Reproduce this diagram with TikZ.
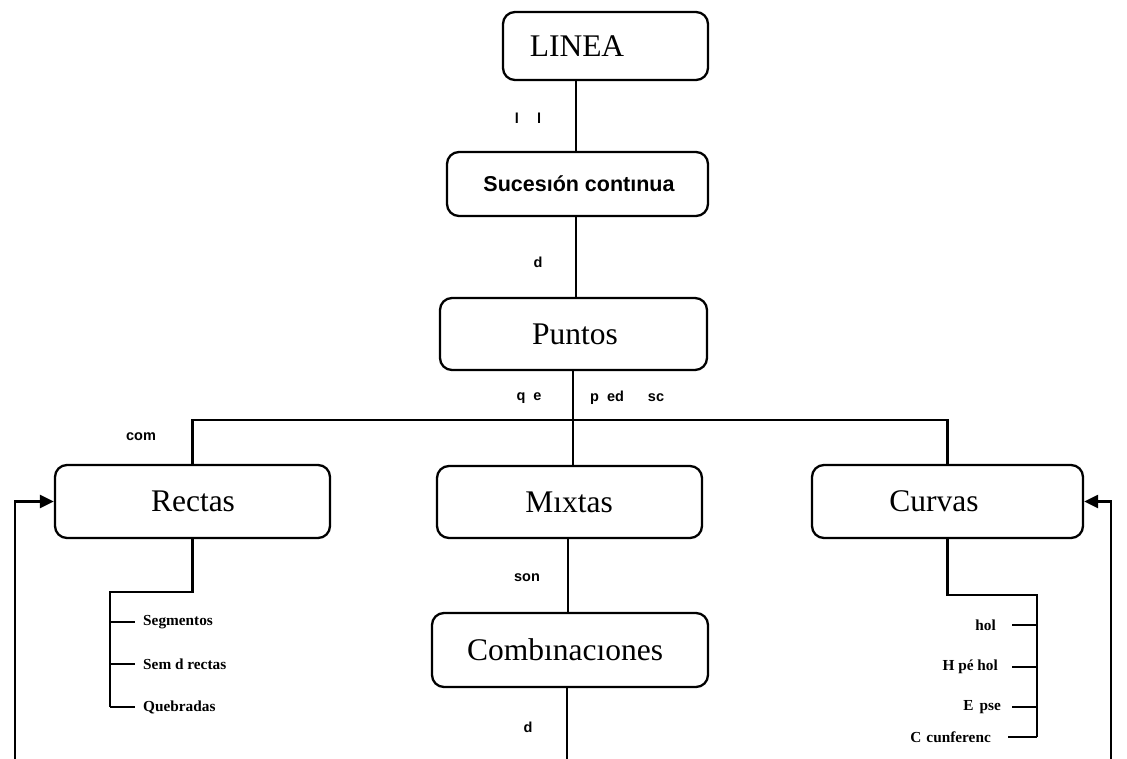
\documentclass[tikz,border=0pt]{standalone}
\usepackage{fontspec}
\setmainfont{Liberation Serif}
\newfontfamily\lsans{Liberation Sans}
\usetikzlibrary{arrows.meta}
\begin{document}
\begin{tikzpicture}[x=1pt,y=-1pt,
  box/.style={draw, line width=2.3pt, rounded corners=12pt, inner sep=0pt},
  big/.style={font=\fontsize{31.5}{31.5}\selectfont, inner sep=0pt},
  mid/.style={font=\lsans\bfseries\fontsize{21.5}{21.5}\selectfont, inner sep=0pt},
  small/.style={font=\lsans\bfseries\fontsize{14.5}{14.5}\selectfont, inner sep=0pt},
  item/.style={font=\bfseries\fontsize{15.3}{15.3}\selectfont, inner sep=0pt},
  conn/.style={line width=2.3pt},
  arr/.style={conn, -{Triangle[length=14pt,width=13pt]}}
]
\useasboundingbox (0,0) rectangle (1127,759);

% boxes
\node[box, minimum width=205pt, minimum height=68pt] (linea) at (605.5,46) {};
\node[big] (lineat) at (577,46) {LINEA};
\node[box, minimum width=261pt, minimum height=64pt] (suc) at (577.5,184) {};
\node[mid] (suct) at (579,184) {Sucesıón contınua};
\node[box, minimum width=267pt, minimum height=72pt] (puntos) at (573.5,334) {};
\node[big] (puntost) at (575,334) {Puntos};
\node[box, minimum width=275pt, minimum height=73pt] (rectas) at (192.5,501.5) {};
\node[big] (rectast) at (193,501.5) {Rectas};
\node[box, minimum width=265pt, minimum height=72pt] (mixtas) at (569.5,502) {};
\node[big] (mixtast) at (569,502) {Mıxtas};
\node[box, minimum width=271pt, minimum height=73pt] (curvas) at (947.5,501.5) {};
\node[big] (curvast) at (934,501.5) {Curvas};
\node[box, minimum width=276pt, minimum height=74pt] (comb) at (570,650) {};
\node[big] (combt) at (565,650) {Combınacıones};

% connector labels
\node[small] (l1) at (528,118) {l\hspace{18pt}l};
\node[small] (l2) at (538,262) {d};
\node[small] (l3) at (529,398) {q\hspace{8pt}e};
\node[small, anchor=west] (l4) at (590,398) {p\hspace{8pt}ed\hspace{24pt}sc};
\node[small] (l5) at (141,437) {com};
\node[small] (l6) at (527,578) {son};
\node[small] (l7) at (528,727) {d};

% vertical chain
\coordinate (c1) at (576,0);
\draw[conn] (c1 |- linea.south) -- (c1 |- suc.north);
\draw[conn] (c1 |- suc.south) -- (c1 |- puntos.north);
\coordinate (c2) at (573,420);
\draw[conn] (c2 |- puntos.south) -- (c2) -- (c2 |- mixtas.north);
\draw[conn] (rectas.north) |- (c2) -| (curvas.north);

\coordinate (c3) at (568,0);
\draw[conn] (c3 |- mixtas.south) -- (c3 |- comb.north);
\coordinate (cend) at (567,760);
\draw[conn] (cend |- comb.south) -- (cend);

% loops
\coordinate (lb) at (15,760);
\coordinate (rb) at (1111,760);
\draw[arr] (lb) |- (rectas.west);
\draw[arr] (rb) |- (curvas.east);

% rectas list
\coordinate (rs) at (110,592);
\coordinate (re) at (110,707);
\draw[conn] (rectas.south) |- (rs) -- (re);
\node[item, anchor=west] (r1) at (143,622) {Segmentos};
\node[item, anchor=west] (r2) at (143,664) {Sem d rectas};
\node[item, anchor=west] (r3) at (143,707) {Quebradas};
\draw[conn] (rs |- r1) -- ([xshift=-8pt]r1.west);
\draw[conn] (rs |- r2) -- ([xshift=-8pt]r2.west);
\draw[conn] (re) -- ([xshift=-8pt]r3.west);

% curvas list
\coordinate (cs) at (1037,595);
\coordinate (ce) at (1037,737);
\draw[conn] (curvas.south) |- (cs) -- (ce);
\node[item, anchor=east] (k1) at (996,625) {hol};
\node[item, anchor=east] (k2) at (998,667) {H pé hol};
\node[item, anchor=east] (k3) at (1001,707) {E\hspace{6pt}pse};
\node[item, anchor=east] (k4) at (991,737) {C\hspace{5pt}cunferenc};
\draw[conn] (cs |- k1) -- ([xshift=16pt]k1.east);
\draw[conn] (cs |- k2) -- ([xshift=14pt]k2.east);
\draw[conn] (cs |- k3) -- ([xshift=11pt]k3.east);
\draw[conn] (ce) -- ([xshift=17pt]k4.east);
\end{tikzpicture}
\end{document}
